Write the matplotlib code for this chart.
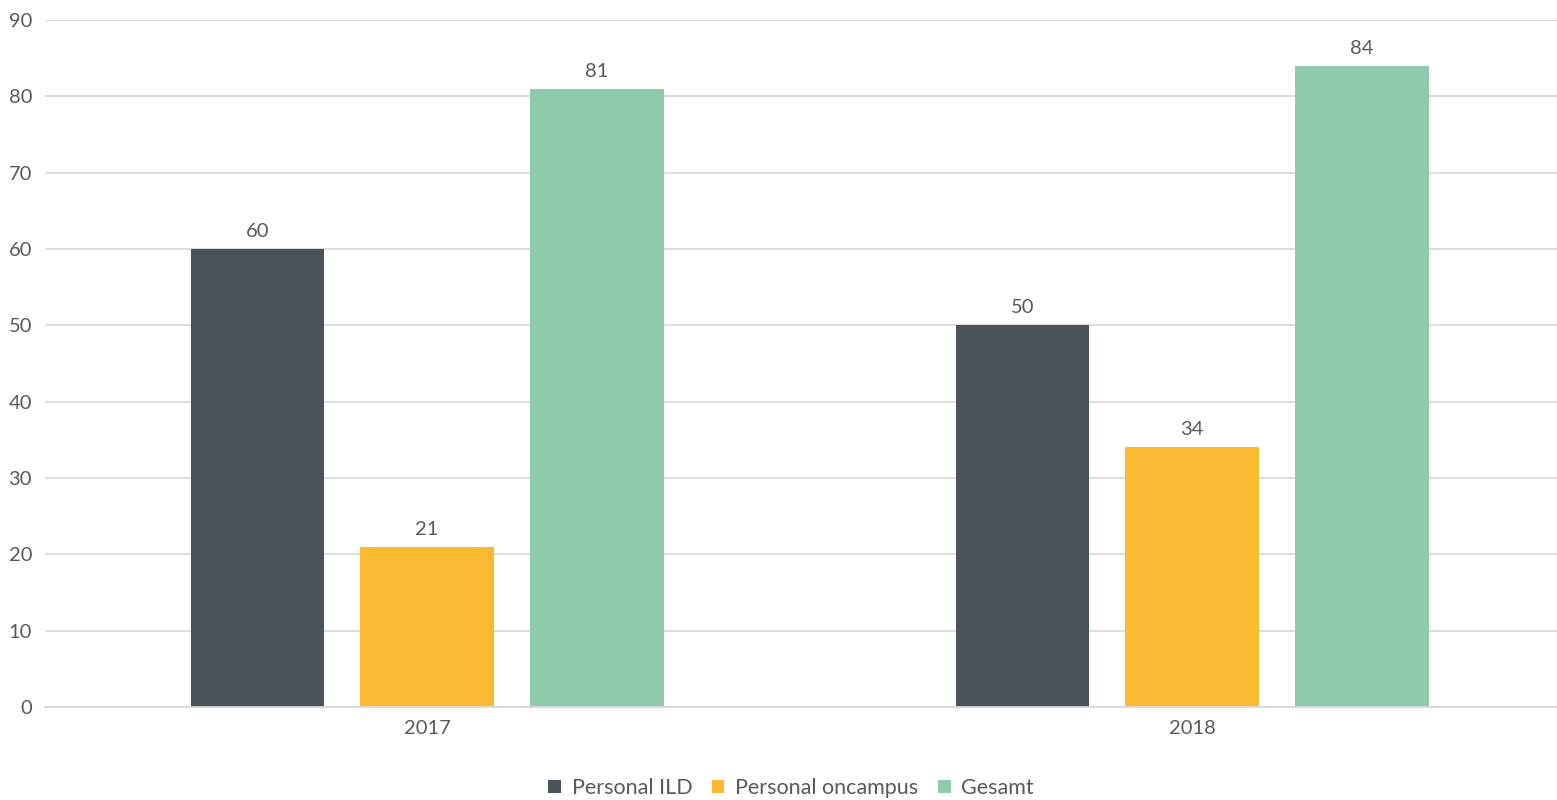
import matplotlib
matplotlib.use("Agg")
import matplotlib.pyplot as plt
import numpy as np

years = ["2017", "2018"]
series_names = ["Personal ILD", "Personal oncampus", "Gesamt"]
personal_ild = [60, 50]
personal_oncampus = [21, 34]
gesamt = [81, 84]
y_ticks = [0, 10, 20, 30, 40, 50, 60, 70, 80, 90]

COLORS = ["#4B535A", "#F9BA32", "#8DCBAC"]
TEXT = "#595959"
GRID = "#D9D9D9"

plt.rcParams["font.family"] = ["Lato", "DejaVu Sans"]

fig = plt.figure(figsize=(15.57, 8), dpi=100, facecolor="white")
ax = fig.add_axes([44.5 / 1557, 1 - 707 / 800, 1 - 44.5 / 1557, (707 - 20) / 800])

x = np.arange(len(years))
width = 0.175
step = 0.2216

# drei Balken je Jahr, Werte direkt darueber
for i, (name, vals) in enumerate(zip(series_names, [personal_ild, personal_oncampus, gesamt])):
    pos = x + (i - 1) * step
    bars = ax.bar(pos, vals, width=width, color=COLORS[i], label=name, zorder=2)
    for b, v in zip(bars, vals):
        ax.text(b.get_x() + b.get_width() / 2, v + 1.2, str(v), ha="center", va="bottom",
                fontsize=14.5, color=TEXT)

ax.set_xlim(-0.5, 1.477)
ax.set_ylim(0, 90)
ax.set_yticks(y_ticks)
ax.set_xticks(x)
ax.set_xticklabels(years)
ax.grid(axis="y", color=GRID, linewidth=1.3, zorder=0)
ax.set_axisbelow(True)
for s in ["top", "right", "left"]:
    ax.spines[s].set_visible(False)
ax.spines["bottom"].set_color(GRID)
ax.spines["bottom"].set_linewidth(1.3)
ax.tick_params(axis="both", length=0, labelsize=14.5, colors=TEXT)
ax.tick_params(axis="y", pad=9)
ax.tick_params(axis="x", pad=9)

fig.legend(loc="lower center", bbox_to_anchor=(0.508, -0.022), ncol=3, frameon=False,
           fontsize=15.5, labelcolor=TEXT, handlelength=0.6, handleheight=0.6,
           handletextpad=0.5, columnspacing=0.9)

fig.savefig("out.png", dpi=100, facecolor="white")
